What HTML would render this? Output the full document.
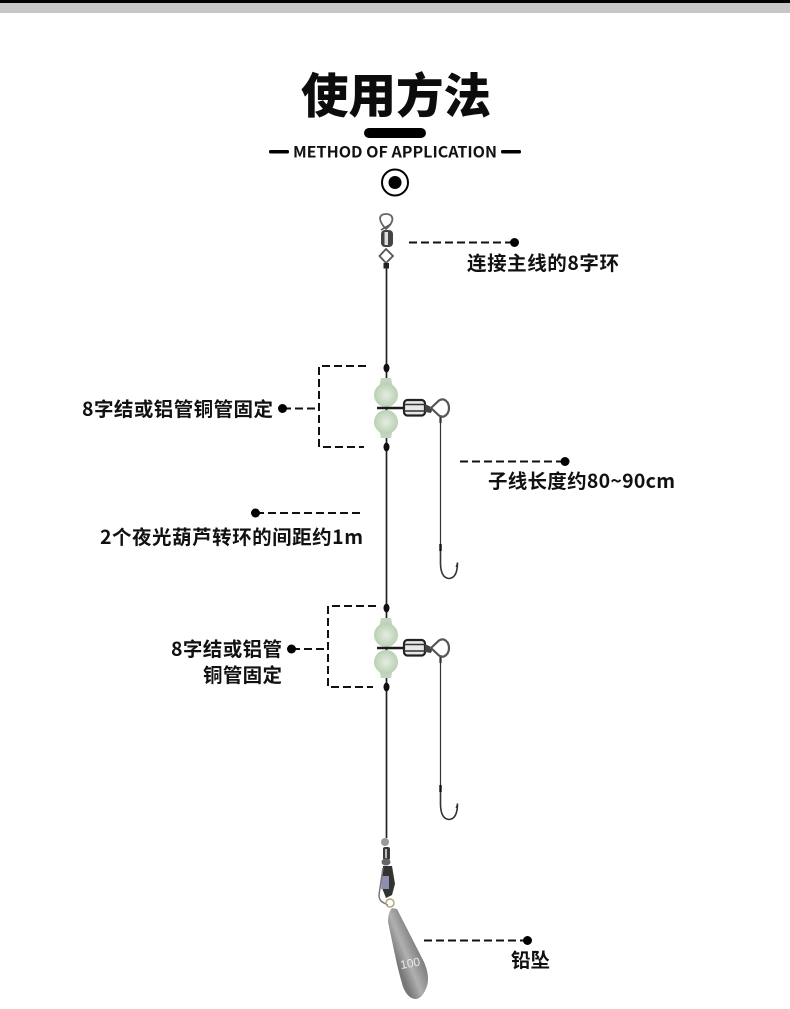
<!DOCTYPE html>
<html><head><meta charset="utf-8"><style>
html,body{margin:0;padding:0;background:#fff}
svg{display:block}
text{font-family:"Liberation Sans","Noto Sans CJK SC",sans-serif;font-weight:700;fill:#111}
.l{font-family:"Noto Sans CJK SC","Liberation Sans",sans-serif;font-size:19.5px;font-weight:700}
</style></head><body>
<svg width="790" height="1009" viewBox="0 0 790 1009" xmlns="http://www.w3.org/2000/svg">
<defs>
<radialGradient id="b" cx="50%" cy="50%" r="55%"><stop offset="0" stop-color="#e4ece0"/><stop offset="1" stop-color="#b5ceb0"/></radialGradient>
<linearGradient id="s" gradientUnits="userSpaceOnUse" x1="396" y1="960" x2="426" y2="948"><stop offset="0" stop-color="#777"/><stop offset=".35" stop-color="#b0b0b0"/><stop offset=".65" stop-color="#8c8c8c"/><stop offset="1" stop-color="#666"/></linearGradient>
<g id="rig">
<path d="M381 378H391L393 388H379Z" fill="#c3d6bd"/>
<circle cx="386" cy="395" r="12" fill="url(#b)"/>
<path d="M381 438H391L393 428H379Z" fill="#c3d6bd"/>
<circle cx="386" cy="422" r="12" fill="url(#b)"/>
<path d="M377 408H404" stroke="#1c1c1c" stroke-width="2.500"/>
<rect x="404" y="400" width="21" height="15.500" rx="3.500" fill="#e8e8e8" stroke="#222" stroke-width="2.200"/>
<path d="M404 404.500H425M404 411H425" stroke="#333" stroke-width="1.500"/>
<path d="M425 404 L433 408 L431 413 L425 412Z" fill="#444"/>
<path d="M431 408 L439 400.500 Q441 399 444 399.500 Q449 402 449 408 Q449 414 444 416.500 Q441 417 439 415.500Z" fill="#fff" stroke="#555" stroke-width="2.200"/>
<path d="M440.500 417V423" stroke="#333" stroke-width="2.200"/>
</g>
<g id="hook" fill="none" stroke="#333">
<path d="M440.500 420V546" stroke-width="1.200"/>
<path d="M440.500 546V564 Q441 578 449 578.500 Q457.500 578 457.500 562.500" stroke-width="1.600"/>
<path d="M457.500 562.500L456 567" stroke-width="1"/>
<path d="M440.500 544V551" stroke="#111" stroke-width="2.400"/>
</g>
</defs>
<rect width="790" height="3" fill="#000"/>
<rect y="3" width="790" height="10" fill="#c6c6c6"/>
<text x="301" y="113" font-size="47.500" textLength="190" style="font-family:'Noto Sans CJK SC',sans-serif;font-weight:900;fill:#0c0c0c">使用方法</text>
<rect x="364" y="128" width="62" height="10" rx="5" fill="#000"/>
<rect x="269" y="150" width="20" height="3.500" rx="1.500" fill="#000"/>
<rect x="501" y="150" width="20" height="3.500" rx="1.500" fill="#000"/>
<text x="293" y="157.500" font-size="15.500" textLength="204" lengthAdjust="spacingAndGlyphs" style="font-family:'Noto Sans CJK SC',sans-serif;font-weight:700">METHOD OF APPLICATION</text>
<circle cx="395" cy="182.500" r="13" fill="none" stroke="#000" stroke-width="2"/>
<circle cx="395" cy="182.500" r="6.500" fill="#000"/>
<path d="M386 214 Q380 214 380 219 Q381 224 386 229 Q392 224 392.500 219 Q392 214 386 214Z" fill="#fff" stroke="#666" stroke-width="1.800"/>
<path d="M381 230 L391 224" stroke="#555" stroke-width="1.500"/>
<rect x="381" y="230" width="12" height="17" rx="4" fill="#444"/>
<rect x="384.500" y="232" width="3.500" height="13" fill="#ddd"/>
<path d="M386 249 L393 256 L386 263 L379.500 256Z" fill="#fff" stroke="#555" stroke-width="1.800"/>
<rect x="383.500" y="263" width="5.500" height="5.500" fill="#222"/>
<path d="M386.500 268V838" stroke="#222" stroke-width="1.700"/>
<ellipse cx="386.500" cy="368" rx="3" ry="4.500" fill="#111"/>
<ellipse cx="386.500" cy="447" rx="3" ry="4.500" fill="#111"/>
<ellipse cx="386.500" cy="608" rx="3" ry="4.500" fill="#111"/>
<ellipse cx="386.500" cy="687" rx="3" ry="4.500" fill="#111"/>
<use href="#rig"/>
<use href="#rig" y="240"/>
<use href="#hook"/>
<use href="#hook" y="241"/>
<g fill="none" stroke="#111" stroke-width="2" stroke-dasharray="8 4">
<path d="M409 242.500H514"/>
<path d="M366 366H319V447H364"/>
<path d="M283 408.500H319"/>
<path d="M460 461.500H565"/>
<path d="M256 513H362"/>
<path d="M376 606H328V687H373"/>
<path d="M292 649H328"/>
<path d="M424 940.500H527"/>
</g>
<g fill="#000">
<circle cx="514.500" cy="242.500" r="4.500"/>
<circle cx="282.500" cy="408.500" r="4.500"/>
<circle cx="565" cy="461.500" r="4.500"/>
<circle cx="255.500" cy="513" r="4.500"/>
<circle cx="291.500" cy="649" r="4.500"/>
<circle cx="527.500" cy="940.500" r="4.500"/>
</g>
<text class="l" x="467" y="270" textLength="152">连接主线的8字环</text>
<text class="l" x="82" y="416" textLength="191">8字结或铝管铜管固定</text>
<text class="l" x="488" y="488" textLength="187">子线长度约80~90cm</text>
<text class="l" x="100" y="544" textLength="263">2个夜光葫芦转环的间距约1m</text>
<text class="l" x="171" y="656" textLength="111">8字结或铝管</text>
<text class="l" x="203" y="682" textLength="79">铜管固定</text>
<text class="l" x="511" y="967" textLength="39">铅坠</text>
<circle cx="385" cy="842" r="4" fill="#999"/>
<rect x="383" y="847" width="7" height="13" rx="2" fill="#3a3a3a"/>
<rect x="385" y="849" width="2" height="9" fill="#bbb"/>
<ellipse cx="386" cy="862" rx="4.500" ry="3.500" fill="#666"/>
<path d="M383 866H392L395 884L392 895L386 898L382 888Z" fill="#333"/>
<path d="M382 876H389V889H381Z" fill="#8d8fb0"/>
<path d="M383 868L379 895Q379 901 384 903L388 905" fill="none" stroke="#777" stroke-width="1.500"/>
<circle cx="390" cy="903" r="4" fill="none" stroke="#b3a77f" stroke-width="1.500"/>
<path d="M392 908 L397 909 L424 962 Q430 976 427 986 Q423 998 416 999 Q408 999 403 987 Q398 970 395 955 L388 922 Q388 912 392 908Z" fill="url(#s)"/>
<text x="401" y="969" font-size="12" transform="rotate(-10 401 969)" style="fill:#e8e8e8;font-weight:400">100</text>
</svg>
</body></html>
